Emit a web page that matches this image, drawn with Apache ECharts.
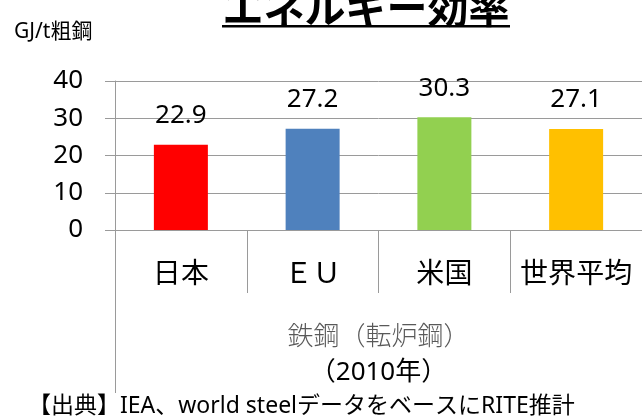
<!DOCTYPE html>
<html>
<head>
<meta charset="utf-8">
<script src="https://cdn.jsdelivr.net/npm/echarts@6/dist/echarts.min.js"></script>
<style>
html,body{margin:0;padding:0;background:#fff;}
#c{width:642px;height:417px;}
</style>
</head>
<body>
<div id="c"></div>
<script>
// ---- data ----
const categories = ['日本', 'ＥＵ', '米国', '世界平均'];
const values = [22.9, 27.2, 30.3, 27.1];
const yMin = 0, yMax = 40, yInterval = 10;
const titleText = 'エネルギー効率';
const unitText = 'GJ/t粗鋼';
const axisNameLine1 = '鉄鋼（転炉鋼）';
const axisNameLine2 = '（2010年）';
const sourceText = '【出典】IEA、world steelデータをベースにRITE推計';

// ---- styles ----
const palette = ['#FF0000', '#4F81BD', '#92D050', '#FFC000'];
const gridColor = '#9a9a9a';
const FONT = '"Noto Sans", "Noto Sans CJK JP", sans-serif';
const CJK = '"Noto Sans CJK JP", "Noto Sans", sans-serif';

const chart = echarts.init(document.getElementById('c'), null, {renderer: 'canvas'});
const gridLeft = 115, gridTop = 81, gridBottom = 187;

chart.setOption({
  animation: false,
  backgroundColor: '#fff',
  grid: {left: gridLeft, right: -5, top: gridTop, bottom: gridBottom, containLabel: false},
  xAxis: {
    type: 'category',
    data: categories,
    axisLine: {show: true, lineStyle: {color: gridColor, width: 1}},
    axisTick: {show: true, length: 63, lineStyle: {color: gridColor, width: 1}},
    axisLabel: {
      margin: 28, fontSize: 28, lineHeight: 28, color: '#000', fontFamily: CJK, interval: 0
    },
    name: '{a|' + axisNameLine1 + '}\n{b|' + axisNameLine2 + '}',
    nameLocation: 'middle',
    nameGap: 86,
    nameTextStyle: {
      rich: {
        a: {fontSize: 26, lineHeight: 38, color: '#595959', fontFamily: CJK, fontWeight: 300},
        b: {fontSize: 26, lineHeight: 38, color: '#000', fontFamily: FONT}
      }
    }
  },
  yAxis: {
    type: 'value',
    min: yMin, max: yMax, interval: yInterval,
    axisLine: {show: true, lineStyle: {color: gridColor, width: 1}},
    axisTick: {show: true, length: 10, inside: false, lineStyle: {color: gridColor, width: 1}},
    axisLabel: {margin: 32, fontSize: 26, color: '#000', fontFamily: FONT},
    splitLine: {show: true, lineStyle: {color: gridColor, width: 1}}
  },
  series: [{
    type: 'bar',
    data: values,
    barWidth: 54,
    itemStyle: {color: p => palette[p.dataIndex % palette.length]},
    label: {
      show: true, position: 'top', distance: 16,
      fontSize: 26, lineHeight: 26, color: '#000', fontFamily: FONT,
      formatter: p => p.value.toFixed(1)
    }
  }],
  graphic: [
    {
      type: 'text', x: 366, y: 7,
      style: {text: titleText, font: 'bold 41px "Noto Sans CJK JP", sans-serif', fill: '#000', align: 'center', verticalAlign: 'middle'}
    },
    {
      type: 'rect', shape: {x: 222, y: 25, width: 288, height: 2.5}, style: {fill: '#000'}
    },
    {
      type: 'text', x: 14, y: 32,
      style: {text: unitText, font: '21px "Noto Sans", "Noto Sans CJK JP", sans-serif', fill: '#000', verticalAlign: 'middle'}
    },
    {
      type: 'line', shape: {x1: gridLeft + 0.5, y1: 230, x2: gridLeft + 0.5, y2: 393},
      style: {stroke: gridColor, lineWidth: 1}
    },
    {
      type: 'text', x: 28, y: 406,
      style: {text: sourceText, font: '23px "Noto Sans", "Noto Sans CJK JP", sans-serif', fill: '#000', verticalAlign: 'middle'}
    }
  ]
});
</script>
</body>
</html>
